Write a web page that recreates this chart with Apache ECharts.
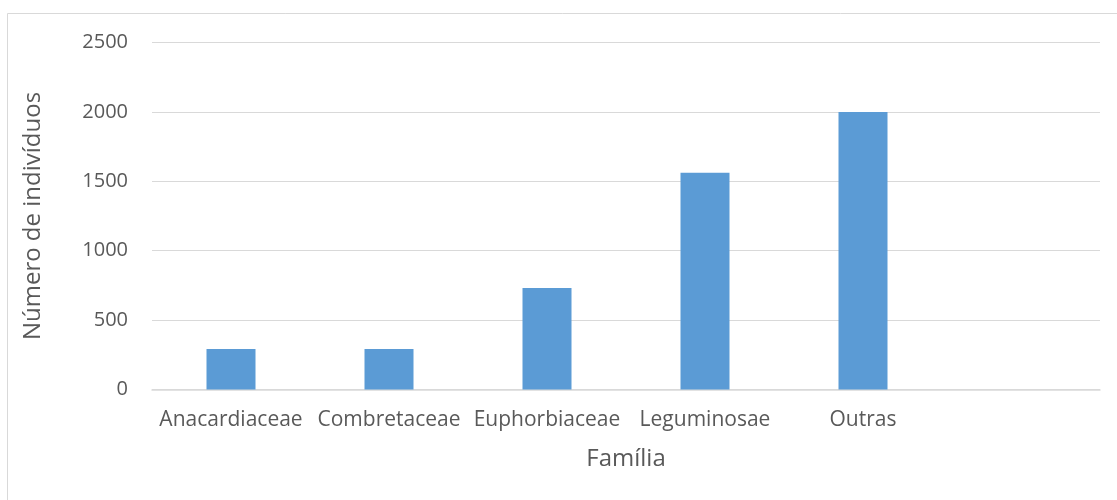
<!DOCTYPE html>
<html>
<head>
<meta charset="utf-8">
<script src="https://cdn.jsdelivr.net/npm/echarts@6/dist/echarts.min.js"></script>
<style>
  html, body { margin: 0; padding: 0; background: #fff; }
  #chart { width: 1117px; height: 500px; }
</style>
</head>
<body>
<div id="chart"></div>
<script>
// Número de indivíduos por família botânica
const familias = ['Anacardiaceae', 'Combretaceae', 'Euphorbiaceae', 'Leguminosae', 'Outras', ''];
const individuos = [292, 292, 732, 1562, 2000, null];
const yTicks = [0, 500, 1000, 1500, 2000, 2500];

const textColor = '#595959';
const fontFamily = '"Open Sans", "Liberation Sans", sans-serif';

const chart = echarts.init(document.getElementById('chart'), null, { renderer: 'canvas' });
chart.setOption({
  animation: false,
  backgroundColor: '#ffffff',
  graphic: [{
    type: 'rect',
    shape: { x: 7.5, y: 13.5, width: 1115, height: 500 },
    style: { fill: null, stroke: '#d9d9d9', lineWidth: 1 },
    silent: true
  }],
  grid: { left: 152, right: 17, top: 42.5, bottom: 110.5 },
  xAxis: {
    type: 'category',
    data: familias,
    name: 'Família',
    nameLocation: 'middle',
    nameGap: 58,
    nameTextStyle: { color: textColor, fontSize: 24, fontFamily },
    axisLine: { show: true, lineStyle: { color: '#d9d9d9', width: 1.5 } },
    axisTick: { show: false },
    axisLabel: { color: textColor, fontSize: 21, fontFamily, margin: 20, interval: 0 }
  },
  yAxis: {
    type: 'value',
    min: yTicks[0],
    max: yTicks[yTicks.length - 1],
    interval: yTicks[1] - yTicks[0],
    name: 'Número de indivíduos',
    nameLocation: 'middle',
    nameGap: 107,
    nameTextStyle: { color: textColor, fontSize: 24, fontFamily },
    axisLine: { show: false },
    axisTick: { show: false },
    axisLabel: { color: textColor, fontSize: 20, fontFamily, margin: 24, formatter: v => String(v) },
    splitLine: { lineStyle: { color: '#d9d9d9', width: 1 } }
  },
  series: [{
    type: 'bar',
    data: individuos,
    barWidth: 49,
    itemStyle: { color: '#5b9bd5' }
  }]
});
</script>
</body>
</html>
